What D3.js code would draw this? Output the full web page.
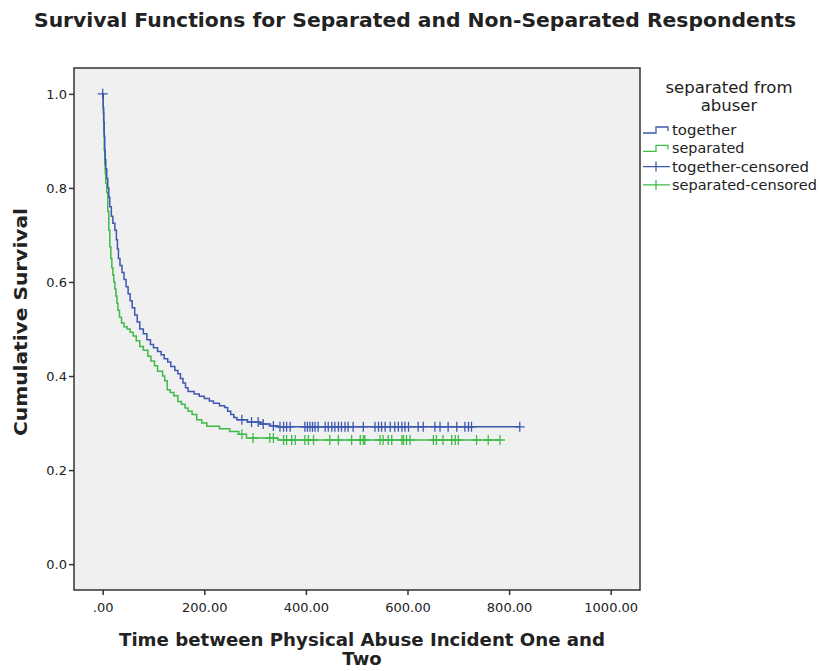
<!DOCTYPE html>
<html>
<head>
<meta charset="utf-8">
<script src="https://cdn.jsdelivr.net/npm/d3@7"></script>
<style>
  body { margin: 0; background: #fff; }
  text { font-family: "DejaVu Sans", sans-serif; fill: #222; }
</style>
</head>
<body>
<script>
// step points [time, survival]
var togetherSteps = [[0,1.0],[1,0.97],[2,0.94],[3,0.91],[4,0.88],[5,0.86],[6,0.84],[8,0.82],[10,0.80],[12,0.78],[14,0.76],[17,0.74],[20,0.725],[24,0.71],[27,0.69],[29,0.67],[31,0.65],[34,0.635],[38,0.62],[42,0.605],[46,0.59],[50,0.575],[54,0.56],[58,0.545],[63,0.53],[68,0.515],[73,0.5],[80,0.49],[87,0.477],[94,0.467],[100,0.46],[108,0.452],[115,0.445],[121,0.437],[128,0.43],[134,0.42],[142,0.412],[148,0.405],[153,0.395],[158,0.385],[163,0.375],[168,0.367],[180,0.362],[190,0.357],[200,0.352],[210,0.347],[218,0.342],[230,0.337],[240,0.333],[246,0.325],[252,0.318],[258,0.312],[264,0.307],[285,0.302],[310,0.298],[330,0.294],[345,0.292]];
var separatedSteps = [[0,1.0],[1,0.96],[2,0.92],[3,0.88],[4,0.85],[5,0.83],[6,0.81],[8,0.79],[10,0.75],[12,0.71],[14,0.675],[16,0.65],[18,0.63],[20,0.615],[22,0.6],[24,0.585],[26,0.57],[28,0.555],[30,0.54],[33,0.525],[37,0.513],[42,0.505],[48,0.5],[54,0.493],[60,0.485],[66,0.475],[73,0.463],[80,0.455],[89,0.442],[95,0.432],[102,0.422],[108,0.41],[118,0.4],[122,0.39],[127,0.371],[133,0.365],[140,0.358],[148,0.346],[155,0.34],[162,0.332],[168,0.325],[176,0.318],[185,0.307],[195,0.3],[205,0.293],[230,0.288],[250,0.282],[268,0.276],[283,0.268],[345,0.264]];

// censored times
var togetherCensored = [0,274,293,306,316,336,349,356,362,369,398,403,408,413,418,424,438,444,451,457,464,470,477,483,493,513,536,543,549,556,566,575,582,589,595,602,621,631,654,664,680,697,713,720,726,821];
var separatedCensored = [274,296,329,336,356,362,372,379,398,405,415,447,464,490,507,513,516,546,552,562,569,589,592,598,605,651,657,670,687,694,700,736,759,782];

var xTicks = [0, 200, 400, 600, 800, 1000];
var yTicks = [0.0, 0.2, 0.4, 0.6, 0.8, 1.0];

var blue = "#3e58b0", green = "#3dba47";

var W = 820, H = 671;
var plot = { left: 74, top: 68, right: 640, bottom: 590 };

var svg = d3.select("body").append("svg")
    .attr("width", W)
    .attr("height", H);

var x = d3.scaleLinear().domain([-56.5, 1057.7]).range([plot.left, plot.right]);
var y = d3.scaleLinear().domain([-0.055, 1.055]).range([plot.bottom, plot.top]);

svg.append("rect")
    .attr("x", plot.left)
    .attr("y", plot.top)
    .attr("width", plot.right - plot.left)
    .attr("height", plot.bottom - plot.top)
    .attr("fill", "#f0f0f0");

// axes
var xAxis = d3.axisBottom(x).tickValues(xTicks).tickSize(5).tickSizeOuter(0)
    .tickFormat(function(d) { return d === 0 ? ".00" : d3.format(".2f")(d); });
var yAxis = d3.axisLeft(y).tickValues(yTicks).tickSize(5).tickSizeOuter(0)
    .tickFormat(d3.format(".1f"));

var gx = svg.append("g")
    .attr("transform", "translate(0," + plot.bottom + ")")
    .call(xAxis);
var gy = svg.append("g")
    .attr("transform", "translate(" + plot.left + ",0)")
    .call(yAxis);

[gx, gy].forEach(function(g) {
  g.select(".domain").remove();
  g.selectAll(".tick line").attr("stroke", "#333").attr("stroke-width", 1.5);
  g.selectAll(".tick text").attr("font-size", 13).attr("fill", "#333")
      .style("font-family", "'DejaVu Sans', sans-serif");
});
gx.selectAll(".tick text").attr("dy", "1.1em");
gy.selectAll(".tick text").attr("x", -7);

// curves
function withEnd(steps, cens) {
  var last = d3.max(cens);
  return steps.concat([[last, steps[steps.length - 1][1]]]);
}
function survAt(steps, t) {
  var i = d3.bisector(function(d) { return d[0]; }).right(steps, t) - 1;
  return steps[Math.max(0, i)][1];
}

var line = d3.line()
    .x(function(d) { return x(d[0]); })
    .y(function(d) { return y(d[1]); })
    .curve(d3.curveStepAfter);

var groups = [
  { steps: separatedSteps, cens: separatedCensored, color: green },
  { steps: togetherSteps, cens: togetherCensored, color: blue }
];

groups.forEach(function(g) {
  svg.append("path")
      .datum(withEnd(g.steps, g.cens))
      .attr("fill", "none")
      .attr("stroke", g.color)
      .attr("stroke-width", 1.5)
      .attr("d", line);

  svg.selectAll(null)
      .data(g.cens)
    .enter().append("path")
      .attr("fill", "none")
      .attr("stroke", g.color)
      .attr("stroke-width", 1.3)
      .attr("d", function(t) {
        var cx = x(t), cy = y(survAt(g.steps, t));
        return "M" + (cx - 5) + "," + cy + "H" + (cx + 5) + "M" + cx + "," + (cy - 5) + "V" + (cy + 5);
      });
});

// frame
svg.append("rect")
    .attr("x", plot.left)
    .attr("y", plot.top)
    .attr("width", plot.right - plot.left)
    .attr("height", plot.bottom - plot.top)
    .attr("fill", "none")
    .attr("stroke", "#333")
    .attr("stroke-width", 1.5);

// titles
svg.append("text")
    .attr("x", 415).attr("y", 27)
    .attr("text-anchor", "middle")
    .attr("font-size", 20).attr("font-weight", "bold")
    .attr("textLength", 762).attr("lengthAdjust", "spacingAndGlyphs")
    .text("Survival Functions for Separated and Non-Separated Respondents");

svg.append("text")
    .attr("transform", "translate(27,322) rotate(-90)")
    .attr("text-anchor", "middle")
    .attr("font-size", 18.5).attr("font-weight", "bold")
    .attr("textLength", 228).attr("lengthAdjust", "spacingAndGlyphs")
    .text("Cumulative Survival");

svg.append("text")
    .attr("x", 362).attr("y", 646)
    .attr("text-anchor", "middle")
    .attr("font-size", 18).attr("font-weight", "bold")
    .attr("textLength", 486).attr("lengthAdjust", "spacingAndGlyphs")
    .text("Time between Physical Abuse Incident One and");
svg.append("text")
    .attr("x", 362).attr("y", 665)
    .attr("text-anchor", "middle")
    .attr("font-size", 18).attr("font-weight", "bold")
    .text("Two");

// legend
var legend = svg.append("g");
legend.append("text")
    .attr("x", 729).attr("y", 93)
    .attr("text-anchor", "middle").attr("font-size", 16.5)
    .text("separated from");
legend.append("text")
    .attr("x", 729).attr("y", 111)
    .attr("text-anchor", "middle").attr("font-size", 16.5)
    .text("abuser");

var legendItems = [
  { label: "together", color: blue, kind: "step" },
  { label: "separated", color: green, kind: "step" },
  { label: "together-censored", color: blue, kind: "cens" },
  { label: "separated-censored", color: green, kind: "cens" }
];

legendItems.forEach(function(d, i) {
  var cy = 130 + i * 18.3;
  legend.append("path")
      .attr("fill", "none")
      .attr("stroke", d.color)
      .attr("stroke-width", 1.3)
      .attr("d", d.kind === "step"
        ? "M643," + (cy + 3) + "H656V" + (cy - 3) + "H668V" + (cy + 1)
        : "M643," + cy + "H670M656," + (cy - 5) + "V" + (cy + 5));
  legend.append("text")
      .attr("x", 672).attr("y", cy + 5)
      .attr("font-size", 14)
      .attr("textLength", d.label.length * 8.05).attr("lengthAdjust", "spacingAndGlyphs")
      .text(d.label);
});
</script>
</body>
</html>
